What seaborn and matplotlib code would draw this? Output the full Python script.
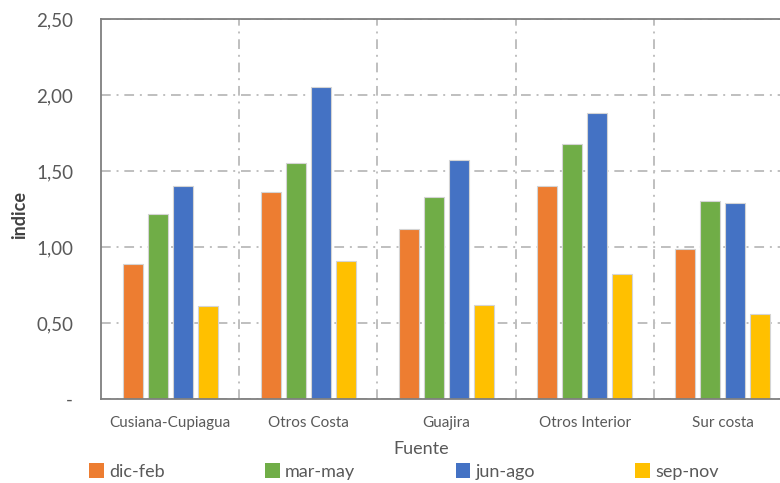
import matplotlib
matplotlib.use("Agg")
import matplotlib.pyplot as plt
import pandas as pd
import seaborn as sns
from matplotlib.patches import Patch

# Source categories and seasonal index values
fuentes = ["Cusiana-Cupiagua", "Otros Costa", "Guajira", "Otros Interior", "Sur costa"]
temporadas = ["dic-feb", "mar-may", "jun-ago", "sep-nov"]
dic_feb = [0.89, 1.36, 1.12, 1.40, 0.99]
mar_may = [1.22, 1.55, 1.33, 1.68, 1.30]
jun_ago = [1.40, 2.05, 1.57, 1.88, 1.29]
sep_nov = [0.61, 0.91, 0.62, 0.82, 0.56]
y_ticks = [0.0, 0.5, 1.0, 1.5, 2.0, 2.5]
y_labels = ["-", "0,50", "1,00", "1,50", "2,00", "2,50"]

colores = ["#ED7D31", "#70AD47", "#4472C4", "#FFC000"]

series = [dic_feb, mar_may, jun_ago, sep_nov]
df = pd.DataFrame(
    [(f, t, v) for t, vals in zip(temporadas, series) for f, v in zip(fuentes, vals)],
    columns=["Fuente", "Temporada", "indice"],
)

sns.set_theme(style="white")
plt.rcParams["font.family"] = ["Lato", "DejaVu Sans"]

fig = plt.figure(figsize=(7.8, 4.83), dpi=100)
ax = fig.add_axes([101 / 780, 1 - 399 / 483, (792 - 101) / 780, (399 - 19) / 483])

sns.barplot(
    data=df, x="Fuente", y="indice", hue="Temporada", order=fuentes,
    hue_order=temporadas, palette=colores, width=0.725, gap=0.2,
    edgecolor="#d4d4d4", linewidth=0.8, saturation=1, legend=False, ax=ax,
)

ax.set_xlim(-0.5, len(fuentes) - 0.5)
ax.set_ylim(0, 2.5)
ax.set_yticks(y_ticks)
ax.set_yticklabels(y_labels)
ax.set_xticks([i + 0.5 for i in range(len(fuentes) - 1)], minor=True)

grid_style = dict(color="#bfbfbf", linewidth=1.4, dashes=(5, 3, 1, 3))
ax.yaxis.grid(True, which="major", **grid_style)
ax.xaxis.grid(True, which="minor", **grid_style)
ax.set_axisbelow(True)

ax.tick_params(axis="both", which="both", length=0)
ax.tick_params(axis="y", labelsize=13.5, labelcolor="#595959", pad=20)
ax.tick_params(axis="x", labelsize=11, labelcolor="#595959", pad=12)

for side in ["left", "bottom", "top"]:
    ax.spines[side].set_visible(True)
    ax.spines[side].set_color("#7f7f7f")
    ax.spines[side].set_linewidth(1.3)
ax.spines["right"].set_visible(False)

ax.set_xlabel("Fuente", fontsize=13, color="#595959")
ax.xaxis.set_label_coords(0.464, -42 / 380)
ax.set_ylabel("indice", fontsize=13, color="#404040", fontweight="bold")
ax.yaxis.set_label_coords(-73 / 691, 0.484)

handles = [Patch(facecolor=c, edgecolor="none") for c in colores]
fig.legend(
    handles, temporadas, loc="lower left", ncol=4, mode="expand",
    bbox_to_anchor=(82 / 780, -0.008, (726 - 82) / 780, 0.05),
    frameon=False, fontsize=13, handlelength=0.8, handleheight=0.9,
    handletextpad=0.3, labelcolor="#595959", borderaxespad=0.0,
)

fig.savefig("out.png", dpi=100)
